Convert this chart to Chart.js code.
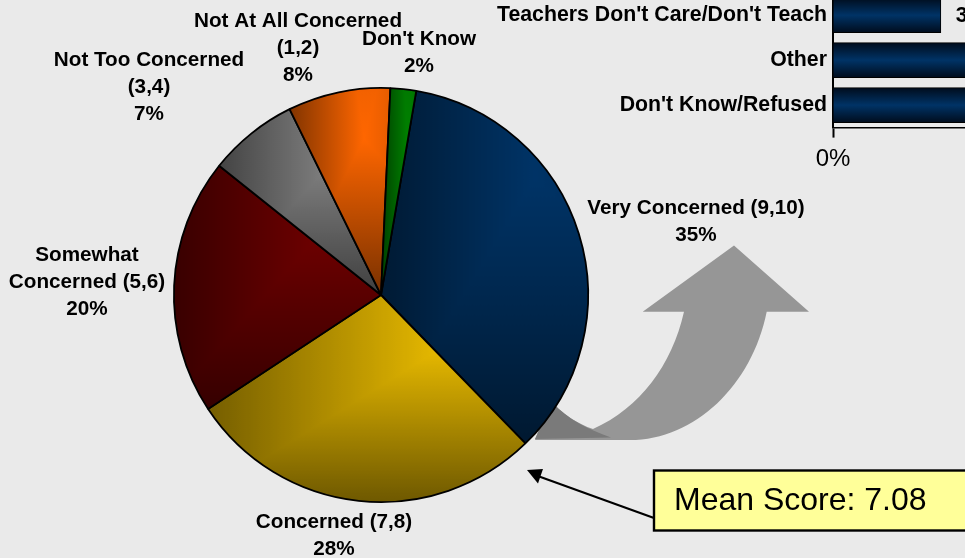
<!DOCTYPE html>
<html>
<head>
<meta charset="utf-8">
<style>
html,body{margin:0;padding:0;width:965px;height:558px;overflow:hidden;background:#eaeaea;}
#wrap{position:relative;width:965px;height:558px;overflow:hidden;}
#pie{position:absolute;left:0;top:0;}
#bars{position:absolute;left:465px;top:-26px;}
</style>
<script src="https://cdn.jsdelivr.net/npm/chart.js@4"></script>
</head>
<body>
<div id="wrap">
<canvas id="pie" width="965" height="558"></canvas>
<canvas id="bars" width="1000" height="196"></canvas>
</div>
<script>
const pieCategories = ["Very Concerned (9,10)","Concerned (7,8)","Somewhat Concerned (5,6)","Not Too Concerned (3,4)","Not At All Concerned (1,2)","Don't Know"];
const pieValues = [35,28,20,7,8,2];
const pieBaseColors = ["#003366","#e8ba00","#700000","#858585","#ff6600","#008000"];
const pieLabelLines = [
  ["Very Concerned (9,10)","35%"],
  ["Concerned (7,8)","28%"],
  ["Somewhat","Concerned (5,6)","20%"],
  ["Not Too Concerned","(3,4)","7%"],
  ["Not At All Concerned","(1,2)","8%"],
  ["Don't Know","2%"]
];
const pieLabelAnchors = [[696,208],[334,522],[87,255],[149,60],[298,21],[419,39]];
const barCategories = ["Teachers Don't Care/Don't Teach","Other","Don't Know/Refused"];
const barValues = [3,5,5];
const meanText = "Mean Score: 7.08";
const ROT = 9.8;
const FONT = "Arial, 'Liberation Sans', sans-serif";

function grey(v){const g=Math.round(255*v);return `rgb(${g},${g},${g})`;}
function slicePattern(i, chart){
  const cx=381, cy=295, r=208;
  const total=pieValues.reduce((a,b)=>a+b,0);
  let a0=ROT; for(let k=0;k<i;k++) a0+=pieValues[k]/total*360;
  const a1=a0+pieValues[i]/total*360;
  const pts=[[cx,cy]];
  for(let a=a0;a<=a1;a+=1){const t=a*Math.PI/180;pts.push([cx+r*Math.sin(t),cy-r*Math.cos(t)]);}
  const t=a1*Math.PI/180;pts.push([cx+r*Math.sin(t),cy-r*Math.cos(t)]);
  const xs=pts.map(p=>p[0]),ys=pts.map(p=>p[1]);
  const x0=Math.min(...xs),x1=Math.max(...xs),y0=Math.min(...ys),y1=Math.max(...ys);
  const c=document.createElement('canvas');c.width=965;c.height=558;
  const g=c.getContext('2d');
  const h=g.createLinearGradient(x0,0,x1,0);
  h.addColorStop(0,grey(.5));h.addColorStop(.74,grey(1));h.addColorStop(1,grey(.9));
  g.fillStyle=h;g.fillRect(0,0,965,558);
  g.globalCompositeOperation='darken';
  const v=g.createLinearGradient(0,y0,0,y1);
  v.addColorStop(0,grey(.95));v.addColorStop(.25,grey(1));v.addColorStop(1,grey(.47));
  g.fillStyle=v;g.fillRect(0,0,965,558);
  g.globalCompositeOperation='multiply';
  g.fillStyle=pieBaseColors[i];g.fillRect(0,0,965,558);
  return chart.ctx.createPattern(c,'no-repeat');
}

const decor={
  id:'decor',
  beforeDatasetsDraw(chart){
    const c=chart.ctx;c.save();
    c.fillStyle='#969696';
    c.beginPath();
    c.moveTo(734,245.5);c.lineTo(809,311.7);c.lineTo(766.7,311.7);
    c.bezierCurveTo(752,385,695,440,630,440);
    c.lineTo(535,440);c.lineTo(550,400);
    c.bezierCurveTo(562,414,578,424,593,429);
    c.bezierCurveTo(640,408,672,365,684,311.7);
    c.lineTo(642.7,311.7);c.closePath();c.fill();
    c.fillStyle='#7a7a7a';
    c.beginPath();
    c.moveTo(552,402);
    c.bezierCurveTo(568,420,590,430,611,437.5);
    c.lineTo(535,439);c.closePath();c.fill();
    c.restore();
  },
  afterDatasetsDraw(chart){
    const c=chart.ctx;c.save();
    c.strokeStyle='#000';c.lineWidth=2.2;
    c.beginPath();c.moveTo(654,518);c.lineTo(535,475);c.stroke();
    c.fillStyle='#000';c.beginPath();c.moveTo(527,470);c.lineTo(543,469);c.lineTo(538,483.5);c.closePath();c.fill();
    c.fillStyle='#ffff99';c.fillRect(654,470.5,320,60);
    c.lineWidth=2.4;c.strokeRect(654,470.5,320,60);
    c.fillStyle='#000';c.font='32px '+FONT;c.textAlign='left';c.textBaseline='middle';
    c.fillText(meanText,674,501);
    c.font='bold 20.7px '+FONT;c.textAlign='center';
    pieLabelLines.forEach((lines,i)=>{
      const [x,y]=pieLabelAnchors[i];
      lines.forEach((t,k)=>c.fillText(t,x,y+k*27));
    });
    c.restore();
  }
};

new Chart(document.getElementById('pie'),{
  type:'pie',
  data:{labels:pieCategories,datasets:[{
    data:pieValues,
    backgroundColor:(ctx)=>ctx.dataIndex===undefined?'#000':slicePattern(ctx.dataIndex,ctx.chart),
    borderColor:'#000',borderWidth:1.8,hoverOffset:0,offset:0
  }]},
  options:{
    responsive:false,animation:false,rotation:ROT,
    layout:{padding:{left:173,right:376,top:87,bottom:55}},
    plugins:{legend:{display:false},tooltip:{enabled:false}}
  },
  plugins:[decor]
});

const barLabels={
  id:'barLabels',
  afterDatasetsDraw(chart){
    const c=chart.ctx,meta=chart.getDatasetMeta(0);c.save();
    c.font='bold 21.3px '+FONT;c.fillStyle='#000';c.textAlign='left';c.textBaseline='middle';
    meta.data.forEach((b,i)=>c.fillText(barValues[i]+'%',b.x+15,b.y+1));
    c.restore();
  }
};
new Chart(document.getElementById('bars'),{
  type:'bar',
  data:{labels:barCategories,datasets:[{
    data:barValues,
    backgroundColor:(ctx)=>{
      const {chart,dataIndex}=ctx,y=chart.scales.y;
      if(!y||dataIndex===undefined) return '#003366';
      const p=y.getPixelForValue(dataIndex);
      if(!isFinite(p)) return '#003366';
      const g=chart.ctx.createLinearGradient(0,p-17.5,0,p+17.5);
      g.addColorStop(0,'#000c1c');g.addColorStop(.5,'#003366');g.addColorStop(1,'#000c1c');
      return g;
    },
    borderColor:'#000',borderWidth:1,barThickness:35
  }]},
  options:{
    indexAxis:'y',responsive:false,animation:false,
    layout:{padding:{top:4.7,left:0,right:0,bottom:0}},
    plugins:{legend:{display:false},tooltip:{enabled:false}},
    scales:{
      y:{
        grid:{display:false,drawTicks:false},
        border:{color:'#000',width:2},
        ticks:{color:'#000',font:{family:FONT,size:21.3,weight:'bold'},padding:6},
        afterFit(s){s.width=368;}
      },
      x:{
        min:0,max:16.25,
        grid:{drawOnChartArea:false,color:'#000',tickLength:10,tickWidth:2},
        border:{color:'#000',width:1.5},
        ticks:{color:'#000',font:{family:FONT,size:24},stepSize:10,maxRotation:0,padding:7,callback:v=>v+'%'},
        afterFit(s){s.height=42.4;}
      }
    }
  },
  plugins:[barLabels]
});
</script>
</body>
</html>
